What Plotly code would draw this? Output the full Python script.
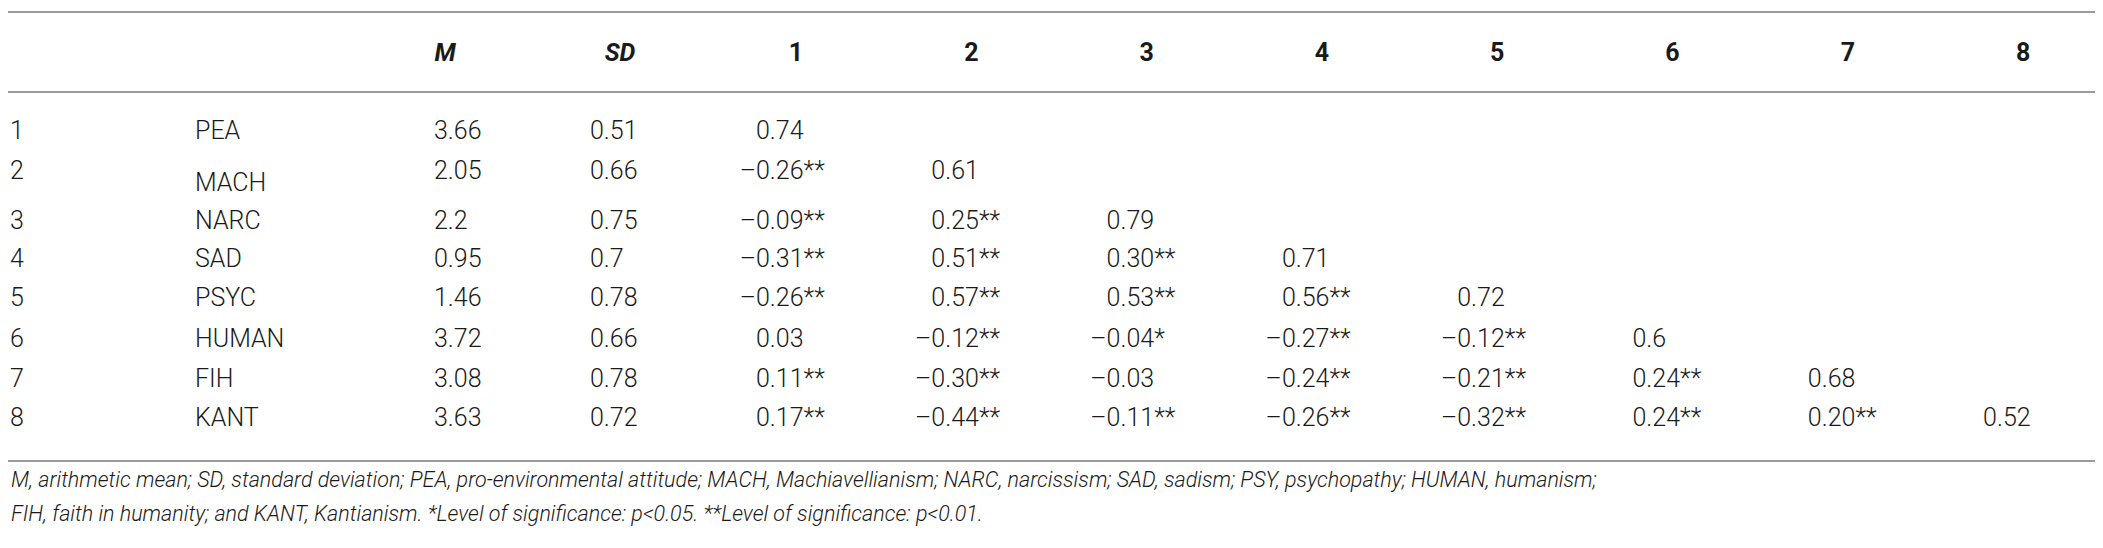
import plotly.graph_objects as go

# table content
row_ids = ["1", "2", "3", "4", "5", "6", "7", "8"]
labels = ["PEA", "MACH", "NARC", "SAD", "PSYC", "HUMAN", "FIH", "KANT"]
means = ["3.66", "2.05", "2.2", "0.95", "1.46", "3.72", "3.08", "3.63"]
sds = ["0.51", "0.66", "0.75", "0.7", "0.78", "0.66", "0.78", "0.72"]
col_heads = ["1", "2", "3", "4", "5", "6", "7", "8"]

# lower triangle of correlations, "–" is the minus sign used in the table
corr = [
    ["0.74"],
    ["–0.26**", "0.61"],
    ["–0.09**", "0.25**", "0.79"],
    ["–0.31**", "0.51**", "0.30**", "0.71"],
    ["–0.26**", "0.57**", "0.53**", "0.56**", "0.72"],
    ["0.03", "–0.12**", "–0.04*", "–0.27**", "–0.12**", "0.6"],
    ["0.11**", "–0.30**", "–0.03", "–0.24**", "–0.21**", "0.24**", "0.68"],
    ["0.17**", "–0.44**", "–0.11**", "–0.26**", "–0.32**", "0.24**", "0.20**", "0.52"],
]

note_1 = ("M, arithmetic mean; SD, standard deviation; PEA, pro-environmental attitude; "
          "MACH, Machiavellianism; NARC, narcissism; SAD, sadism; PSY, psychopathy; HUMAN, humanism;")
note_2 = ("FIH, faith in humanity; and KANT, Kantianism. *Level of significance: p&lt;0.05. "
          "**Level of significance: p&lt;0.01.")

# layout (pixel grid, y grows downward)
W, H = 2103, 548
row_y = [125, 165, 215, 253, 292, 333, 373, 412]
label_dy = {1: 12}          # MACH sits a bit lower in its cell
head_y = 47
line_ys = [4, 84, 453]
x_id, x_label, x_mean, x_sd = 2, 187, 426, 582
x_corr0, col_step = 748, 175.3
x_head = [437, 612] + [788 + col_step * k for k in range(8)]

FONT = "Roboto, 'Liberation Sans', Arial, sans-serif"
SIZE = 25
GREY = "#9a9a9a"
INK = "#1a1a1a"

fig = go.Figure()


def add_text(xs, ys, texts, pos, weight=300):
    fig.add_trace(go.Scatter(
        x=xs, y=ys, text=texts, mode="text", textposition=pos,
        textfont=dict(family=FONT, size=SIZE, color=INK, weight=weight),
        hoverinfo="skip", showlegend=False, cliponaxis=False,
    ))


# row numbers and labels
add_text([x_id] * 8, row_y, row_ids, "middle right")
add_text([x_label] * 8, [y + label_dy.get(i, 0) for i, y in enumerate(row_y)], labels, "middle right")
add_text([x_mean] * 8, row_y, means, "middle right")
add_text([x_sd] * 8, row_y, sds, "middle right")

# correlations: digits start at the column edge, minus sign hangs to the left
bx, by, bt, mx, my = [], [], [], [], []
for i, row in enumerate(corr):
    for j, cell in enumerate(row):
        x0 = x_corr0 + col_step * j
        if cell.startswith("–"):
            mx.append(x0)
            my.append(row_y[i])
            cell = cell[1:]
        bx.append(x0)
        by.append(row_y[i])
        bt.append(cell)
add_text(bx, by, bt, "middle right")
add_text(mx, my, ["–"] * len(mx), "middle left")

# header
heads = ["<i>M</i>", "<i>SD</i>"] + col_heads
add_text(x_head, [head_y] * len(heads), heads, "middle center", weight=700)

# rules
for y in line_ys:
    fig.add_shape(type="line", xref="x", yref="y", x0=0, x1=W, y0=y, y1=y,
                  line=dict(color=GREY, width=2))

# footnote
for k, txt in enumerate([note_1, note_2]):
    fig.add_annotation(x=1, y=471 + 34 * k, xref="x", yref="y", text=f"<i>{txt}</i>",
                       showarrow=False, xanchor="left", yanchor="middle",
                       font=dict(family=FONT, size=21.5, color=INK, weight=300))

fig.update_layout(
    width=W, height=H, margin=dict(l=0, r=0, t=0, b=0),
    paper_bgcolor="white", plot_bgcolor="white",
    xaxis=dict(range=[0, W], visible=False, fixedrange=True),
    yaxis=dict(range=[H, 0], visible=False, fixedrange=True),
)

fig.write_html("out.html")
